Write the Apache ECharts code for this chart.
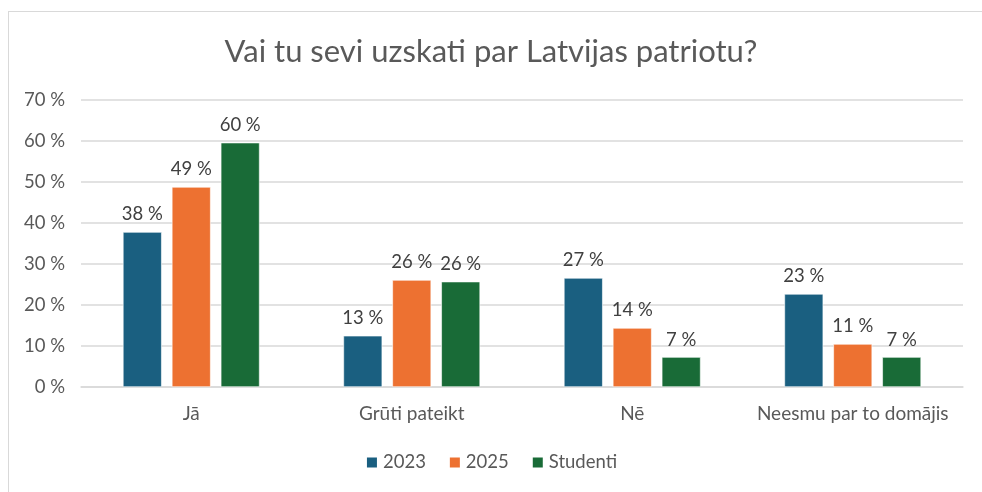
<!DOCTYPE html>
<html>
<head>
<meta charset="utf-8">
<title>Vai tu sevi uzskati par Latvijas patriotu?</title>
<script src="https://cdn.jsdelivr.net/npm/echarts@6/dist/echarts.min.js"></script>
<style>
  html, body { margin: 0; padding: 0; background: #fff; }
  #frame { position: absolute; left: 8px; top: 11px; width: 1000px; height: 600px; border: 1px solid #d9d9d9; }
  #main { position: absolute; left: 0; top: 0; width: 982px; height: 492px; }
</style>
</head>
<body>
<div id="frame"></div>
<div id="main"></div>
<script type="text/javascript">
// dati no attēla (procenti)
var categories = ['Jā', 'Grūti pateikt', 'Nē', 'Neesmu par to domājis'];
var seriesNames = ['2023', '2025', 'Studenti'];
var values2023 = [37.8, 12.5, 26.6, 22.7];
var values2025 = [48.8, 26.1, 14.4, 10.5];
var valuesStudenti = [59.6, 25.7, 7.3, 7.3];
var yTicks = [0, 10, 20, 30, 40, 50, 60, 70];

var colors = ['#1a5f80', '#ed7131', '#196b37'];
var font = 'Lato, "Open Sans", sans-serif';
var textColor = '#595959';

var myChart = echarts.init(document.getElementById('main'));

function makeSeries(name, data, color) {
    return {
        name: name,
        type: 'bar',
        data: data,
        barGap: '26%',
        barCategoryGap: '38%',
        itemStyle: { color: color, borderColor: '#ffffff', borderWidth: 0.6 },
        label: {
            show: true,
            position: 'top',
            distance: 8,
            color: '#404040',
            fontFamily: font,
            fontSize: 18.5,
            formatter: function (p) { return Math.round(p.value) + ' %'; }
        }
    };
}

var option = {
    animation: false,
    color: colors,
    title: {
        text: 'Vai tu sevi uzskati par Latvijas patriotu?',
        left: 'center',
        top: 31,
        textStyle: { color: textColor, fontFamily: font, fontSize: 31, fontWeight: 'normal' }
    },
    legend: {
        data: seriesNames,
        bottom: 15,
        left: 'center',
        itemWidth: 12,
        itemHeight: 12,
        itemGap: 22,
        icon: 'rect',
        textStyle: { color: textColor, fontFamily: font, fontSize: 18.5 }
    },
    grid: { left: 81, right: 19, top: 100, bottom: 105, containLabel: false },
    xAxis: {
        type: 'category',
        data: categories,
        axisTick: { show: false },
        axisLine: { lineStyle: { color: '#d9d9d9', width: 1.5 } },
        axisLabel: { color: textColor, fontFamily: font, fontSize: 19, margin: 17, interval: 0 }
    },
    yAxis: {
        type: 'value',
        min: yTicks[0],
        max: yTicks[yTicks.length - 1],
        interval: 10,
        axisLine: { show: false },
        axisTick: { show: false },
        splitLine: { lineStyle: { color: '#d9d9d9', width: 1.5 } },
        axisLabel: {
            color: textColor, fontFamily: font, fontSize: 18.5, margin: 16,
            formatter: function (v) { return v + ' %'; }
        }
    },
    series: [
        makeSeries(seriesNames[0], values2023, colors[0]),
        makeSeries(seriesNames[1], values2025, colors[1]),
        makeSeries(seriesNames[2], valuesStudenti, colors[2])
    ]
};

myChart.setOption(option);
</script>
</body>
</html>
